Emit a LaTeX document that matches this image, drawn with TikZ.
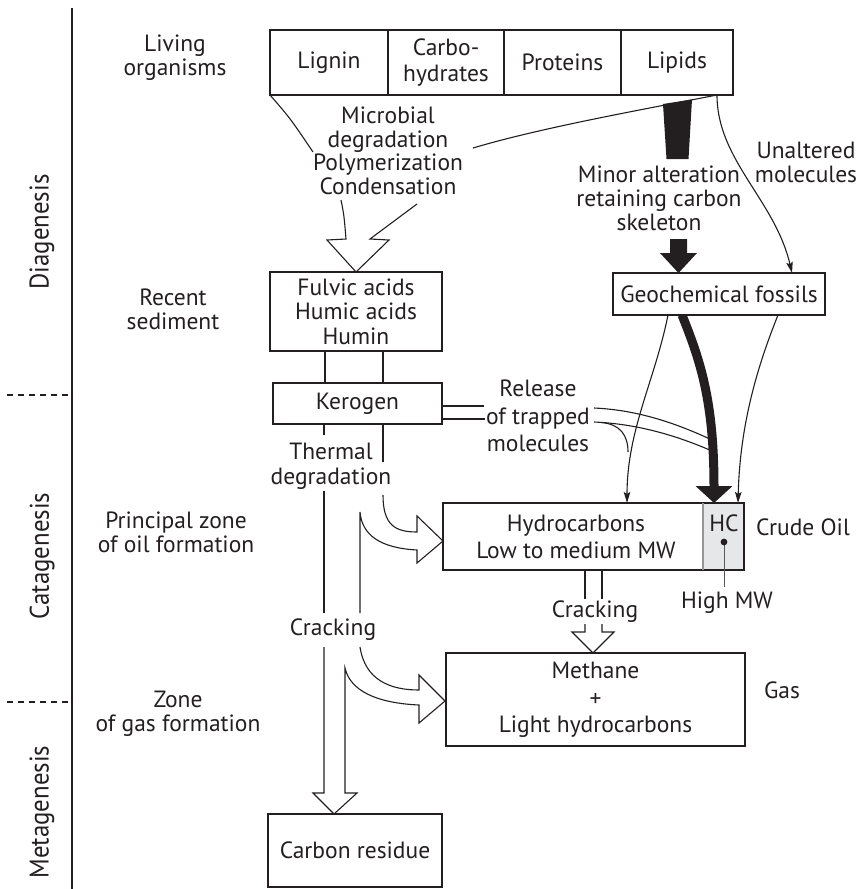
\documentclass[tikz,border=0pt]{standalone}
\usepackage{fontspec}
\setmainfont{PT Sans}
\usetikzlibrary{arrows.meta,calc,backgrounds}
\definecolor{ink}{HTML}{231F20}
\definecolor{hcgrey}{HTML}{E6E7E8}
\definecolor{rule}{HTML}{939598}
\begin{document}
\begin{tikzpicture}[x=1pt,y=-1pt,
  every node/.style={inner sep=0pt, outer sep=0pt, text=ink},
  lbl/.style={font=\fontsize{23.5}{24}\selectfont, align=center},
  wide/.style={font=\fontsize{23.5}{27.5}\selectfont, align=center},
  box/.style={draw=ink, line width=1.2pt, fill=white, lbl},
  ln/.style={draw=ink, line width=1.1pt},
  band/.style={draw=ink, line width=1.1pt, line join=miter},
  thinarrow/.style={ln, -{Stealth[length=11pt,width=6.5pt,inset=2pt]}},
  stage/.style={rotate=90, font=\fontsize{27}{28}\selectfont},
]
\useasboundingbox (0,0) rectangle (864,889);

% ---------------- time axis
\draw[ln] (72,8) -- (72,889);
\draw[ln, dash pattern=on 6pt off 5pt] (7,395) -- (72,395);
\draw[ln, dash pattern=on 6pt off 5pt] (7,702) -- (72,702);
\node[stage] (diagen) at (42,232) {\scalebox{0.92}[1]{Diagenesis}};
\node[stage] (catagen) at (42,556) {\scalebox{0.92}[1]{Catagenesis}};
\node[stage] (metagen) at (42,812) {\scalebox{0.92}[1]{Metagenesis}};

% ---------------- stage labels
\node[lbl] (living) at (175,58) {Living\\organisms};
\node[lbl] (recent) at (173,309) {Recent\\sediment};
\node[lbl] (oilzone) at (176,532) {Principal zone\\of oil formation};
\node[lbl] (gaszone) at (178,714) {Zone\\of gas formation};

% ---------------- boxes
\node[box, minimum width=118, minimum height=65] (lignin) at (329,62.5) {Lignin};
\node[box, minimum width=116, minimum height=65, font=\fontsize{23.5}{26}\selectfont] (carbo) at (446,62.5) {Carbo-\\hydrates};
\node[box, minimum width=117, minimum height=65] (prot) at (562.5,62.5) {Proteins};
\node[box, minimum width=112, minimum height=65] (lip) at (677,62.5) {Lipids};
\coordinate (lipfoot) at ($(lip.south east)+(-16,0)$);

\node[box, minimum width=172, minimum height=79, font=\fontsize{23.5}{24.5}\selectfont] (fulvic) at (356,311.5) {Fulvic acids\\Humic acids\\Humin};
\node[box, minimum width=169, minimum height=41] (kerogen) at (357.5,403.5) {Kerogen};
\node[box, minimum width=212, minimum height=42] (geo) at (719,294) {Geochemical fossils};

\node[fill=hcgrey, minimum width=41, minimum height=67] (hc) at (723.5,536.5) {};
\node[lbl, minimum width=260, minimum height=67, font=\fontsize{23.5}{27}\selectfont] (hydro) at (576,536.5) {Hydrocarbons\\Low to medium MW};
\draw[ink, line width=1.2pt] ($(hc.north west)+(-260,0)$) rectangle (hc.south east);
\draw[rule, line width=1.2pt] (hc.north west) -- (hc.south west);
\node[lbl] (hclbl) at (724,523) {HC};
\draw[draw=ink!75, line width=1pt] (724,542) -- (724,587);
\fill[ink] (724,542) circle (3.4);

\node[box, minimum width=299, minimum height=93] (methane) at (595.5,699.5) {Methane\\[4pt]+\\[2pt]Light hydrocarbons};
\node[box, minimum width=174, minimum height=73] (carbon) at (355,850.5) {Carbon residue};

% ---------------- free labels
\node[lbl, font=\fontsize{23.5}{23.5}\selectfont] (proc) at (388,151) {Microbial\\degradation\\Polymerization\\Condensation};
\node[lbl] (minor) at (659,198) {Minor alteration\\retaining carbon\\skeleton};
\node[lbl] (unalt) at (806,162) {Unaltered\\molecules};
\node[wide] (release) at (538,416) {Release\\of trapped\\molecules};
\node[lbl, font=\fontsize{23.5}{25}\selectfont] (thermal) at (331,466) {Thermal\\degradation};
\node[lbl] (crack1) at (333,630) {Cracking};
\node[lbl] (crack2) at (595,612) {Cracking};
\node[lbl] (himw) at (727,603) {High MW};
\node[lbl] (crude) at (803,527) {Crude Oil};
\node[lbl] (gas) at (782,690) {Gas};

% ---------------- connectors
\begin{scope}[on background layer]
  % funnel from the living organisms into the sediment
  \draw[ln] (lignin.south west) .. controls (290,118) .. (313,152);
  \fill[ink] (663,104) -- (692,99.5) -- (688.5,159) -- (666.5,159) -- cycle;
  \draw[ln] (lipfoot) .. controls (640,110) and (540,128) .. (473,148);
  \draw[band] (341,200) .. controls (344,215) .. (346,239) -- (327,240)
      -- (fulvic.north) -- (389,240) -- (370,239) -- (417,204);

  % lipids to geochemical fossils
  \fill[ink] (670,239) -- (687,239) -- (687,253) -- (697,253)
      -- ($(geo.north west)+(65.5,0)$) -- (660,253) -- (670,253) -- cycle;
  \draw[thinarrow] (lipfoot) .. controls (717,160) and (775,200) .. ($(geo.north west)+(179,0)$);

  % sediment to kerogen
  \draw[ln] ($(fulvic.south west)+(55,0)$) -- ($(kerogen.north west)+(52,0)$);
  \draw[ln] ($(fulvic.south west)+(113,0)$) -- ($(kerogen.north west)+(110,0)$);

  % geochemical fossils to crude oil
  \draw[thinarrow] ($(geo.south west)+(55,0)$) .. controls (655,380) and (627,430) .. ($(hc.north west)+(-76,0)$);
  \draw[ink, line width=9pt, -{Triangle[length=17pt,width=36pt]}]
      ($(geo.south west)+(69,0)$) .. controls (700,360) and (714,400) .. ($(hc.north west)+(11,0)$);
  \draw[thinarrow] ($(geo.south east)+(-47,0)$) .. controls (760,360) and (740,420) .. ($(hc.north west)+(35,0)$);

  % release of trapped molecules
  \draw[ln] (442,406) -- (484,406);
  \draw[ln] (442,419) -- (485,419);
  \draw[ln] (594,408) .. controls (640,410) and (680,425) .. (712,440);
  \draw[ln] (594,422) .. controls (640,424) and (680,437) .. (712,451);
  \draw[ln] (601,422.5) .. controls (620,424) and (628,435) .. (628,452);

  % kerogen band: thermal degradation, cracking, carbon residue
  \draw[ln] ($(kerogen.south west)+(51,0)$) -- (324,435);
  \draw[ln] (324,491) -- (324,613);
  \draw[ln] ($(kerogen.south west)+(110,0)$) -- (383,462);
  \draw[band] (360,613) -- (360,512) .. controls (362,535) and (380,548) .. (417,550)
      -- (417,563) -- (443,541) -- (417,516) -- (417,532)
      .. controls (395,532) and (383,525) .. (383,495);
  \draw[band] (324,647) -- (324,793) -- (313,793) -- ($(carbon.north west)+(66,0)$)
      -- (357,793) -- (345,793) -- (345,668)
      .. controls (350,690) and (375,703) .. (419,705)
      -- (419,723) -- (445,701) -- (419,675) -- (419,690)
      .. controls (390,690) and (365,680) .. (360,647);

  % hydrocarbons cracking to gas
  \draw[ln] ($(hc.south west)+(-118,0)$) -- (585,599);
  \draw[ln] ($(hc.south west)+(-101,0)$) -- (602,599);
  \draw[band] (585,624) -- (585,632) -- (572,632) -- (593,653) -- (614,632) -- (602,632) -- (602,624);
\end{scope}
\end{tikzpicture}
\end{document}
